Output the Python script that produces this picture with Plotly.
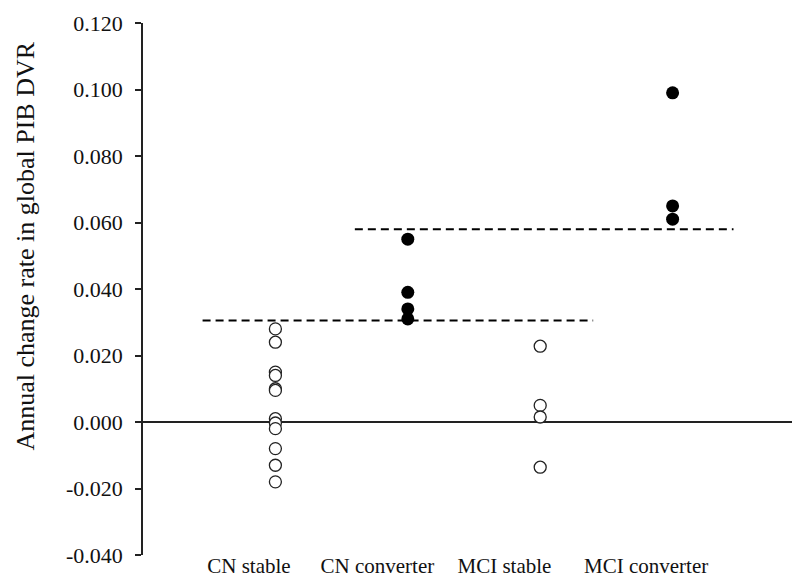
import plotly.graph_objects as go

categories = ["CN stable", "CN converter", "MCI stable", "MCI converter"]
cat_pos = [1, 2, 3, 4]
label_pos = [0.80, 1.77, 2.73, 3.80]

cn_stable = [0.028, 0.024, 0.015, 0.014, 0.010, 0.0095, 0.001, -0.0003, -0.002, -0.008, -0.013, -0.018]
cn_converter = [0.055, 0.039, 0.034, 0.031]
mci_stable = [0.0228, 0.005, 0.0015, -0.0136]
mci_converter = [0.099, 0.065, 0.061]

# dashed reference lines: (x start, x end, level)
lower_line_x = [0.45, 3.40]
lower_line_y = [0.0305, 0.0305]
upper_line_x = [1.60, 4.46]
upper_line_y = [0.058, 0.058]

y_ticks = [-0.04, -0.02, 0.0, 0.02, 0.04, 0.06, 0.08, 0.10, 0.12]
y_tick_text = ["-0.040", "-0.020", "0.000", "0.020", "0.040", "0.060", "0.080", "0.100", "0.120"]
y_title = "Annual change rate in global PIB DVR"

fig = go.Figure()

for xline, yline in [(lower_line_x, lower_line_y), (upper_line_x, upper_line_y)]:
    fig.add_trace(go.Scatter(x=xline, y=yline, mode="lines",
                             line=dict(color="black", width=2, dash="8px,5px"),
                             showlegend=False, hoverinfo="skip"))

open_groups = [(cat_pos[0], cn_stable), (cat_pos[2], mci_stable)]
filled_groups = [(cat_pos[1], cn_converter), (cat_pos[3], mci_converter)]

for xp, vals in open_groups:
    fig.add_trace(go.Scatter(x=[xp] * len(vals), y=vals, mode="markers",
                             marker=dict(size=12, color="white", symbol="circle",
                                         line=dict(color="#222222", width=1.3)),
                             showlegend=False))
for xp, vals in filled_groups:
    fig.add_trace(go.Scatter(x=[xp] * len(vals), y=vals, mode="markers",
                             marker=dict(size=13, color="black", symbol="circle",
                                         line=dict(color="black", width=0)),
                             showlegend=False))

fig.add_annotation(text=y_title, textangle=-90, xref="paper", yref="paper",
                   x=-0.178, y=0.58, showarrow=False, xanchor="center", yanchor="middle",
                   font=dict(size=26))

fig.update_layout(
    width=800, height=580,
    margin=dict(l=135, r=3, t=7, b=33),
    paper_bgcolor="white", plot_bgcolor="white",
    font=dict(family="Liberation Serif, Times New Roman, serif", color="#111111", size=22),
    xaxis=dict(range=[0, 5], showgrid=False, zeroline=False, showline=False,
               tickmode="array", tickvals=label_pos, ticktext=categories,
               ticks="", ticklabelstandoff=-4, tickfont=dict(size=21),
               ticklabeloverflow="allow"),
    yaxis=dict(range=[-0.04, 0.12], tickmode="array", tickvals=y_ticks,
               ticktext=y_tick_text, showgrid=False,
               showline=True, linecolor="#222222", linewidth=1.5,
               ticks="outside", ticklen=6, tickcolor="#222222", tickwidth=1.5,
               zeroline=True, zerolinecolor="#222222", zerolinewidth=2,
               tickfont=dict(size=22), ticklabelstandoff=8,
               ticklabeloverflow="allow"),
)

fig.write_html("out.html")
